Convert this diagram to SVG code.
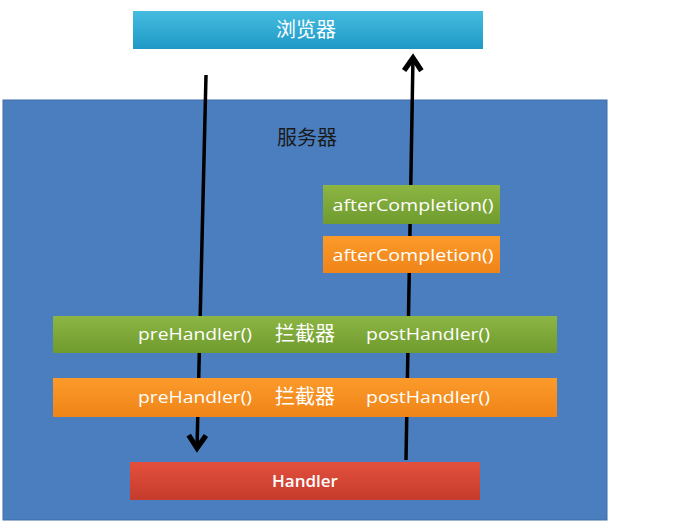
<svg xmlns="http://www.w3.org/2000/svg" width="691" height="526" viewBox="0 0 691 526">
<defs>
<linearGradient id="gBlue" x1="0" y1="0" x2="0" y2="1"><stop offset="0" stop-color="#45bde0"/><stop offset="1" stop-color="#1f98c6"/></linearGradient>
<linearGradient id="gGreen" x1="0" y1="0" x2="0" y2="1"><stop offset="0" stop-color="#8cb543"/><stop offset="1" stop-color="#6f9b2e"/></linearGradient>
<linearGradient id="gOrange" x1="0" y1="0" x2="0" y2="1"><stop offset="0" stop-color="#fb9a2a"/><stop offset="1" stop-color="#f08418"/></linearGradient>
<linearGradient id="gRed" x1="0" y1="0" x2="0" y2="1"><stop offset="0" stop-color="#e4503d"/><stop offset="1" stop-color="#c53b2c"/></linearGradient>
<marker id="arr" viewBox="0 0 10 10" refX="8" refY="5" markerWidth="6.5" markerHeight="6.5" orient="auto" markerUnits="strokeWidth">
<path d="M2,1.2 L7.6,5 L2,8.8" fill="none" stroke="#000" stroke-width="2.3" stroke-linejoin="miter"/>
</marker>
</defs>
<style>
.w{fill:#ffffff;font-family:"Open Sans","Liberation Sans","Noto Sans CJK SC",sans-serif;font-size:17px;text-anchor:middle}
.c{fill:#ffffff;font-family:"Noto Sans CJK SC",sans-serif;font-size:20px;text-anchor:middle}
.ln{stroke:#000;stroke-width:3.5;fill:none}
</style>
<rect width="691" height="526" fill="#ffffff"/>
<g id="server">
<rect x="3" y="100" width="604" height="420" fill="#4a7ebf" stroke="#3f6ea8" stroke-width="1"/>
<text x="307" y="145" class="c" style="fill:#1a1a1a">服务器</text>
</g>
<g id="connectors">
<line x1="206" y1="75" x2="197" y2="449" class="ln" marker-end="url(#arr)"/>
<line x1="406" y1="460" x2="413" y2="57" class="ln" marker-end="url(#arr)"/>
</g>
<g id="browser">
<rect x="133" y="11" width="350" height="38" fill="url(#gBlue)"/>
<text x="306" y="37" class="c">浏览器</text>
</g>
<g id="after1">
<rect x="323" y="185" width="177" height="39" fill="url(#gGreen)"/>
<text x="413" y="211" class="w" textLength="161" lengthAdjust="spacingAndGlyphs">afterCompletion()</text>
</g>
<g id="after2">
<rect x="323" y="236" width="177" height="37" fill="url(#gOrange)"/>
<text x="413" y="261" class="w" textLength="161" lengthAdjust="spacingAndGlyphs">afterCompletion()</text>
</g>
<g id="interceptor1">
<rect x="53" y="316" width="504" height="37" fill="url(#gGreen)"/>
<text x="195" y="340" class="w" textLength="114" lengthAdjust="spacingAndGlyphs">preHandler()</text>
<text x="305" y="341" class="c">拦截器</text>
<text x="428" y="340" class="w" textLength="124" lengthAdjust="spacingAndGlyphs">postHandler()</text>
</g>
<g id="interceptor2">
<rect x="53" y="378" width="504" height="39" fill="url(#gOrange)"/>
<text x="195" y="403" class="w" textLength="114" lengthAdjust="spacingAndGlyphs">preHandler()</text>
<text x="305" y="404" class="c">拦截器</text>
<text x="428" y="403" class="w" textLength="124" lengthAdjust="spacingAndGlyphs">postHandler()</text>
</g>
<g id="handler">
<rect x="130" y="462" width="350" height="38" fill="url(#gRed)"/>
<text x="305" y="487" class="w" style="font-weight:600">Handler</text>
</g>
</svg>
